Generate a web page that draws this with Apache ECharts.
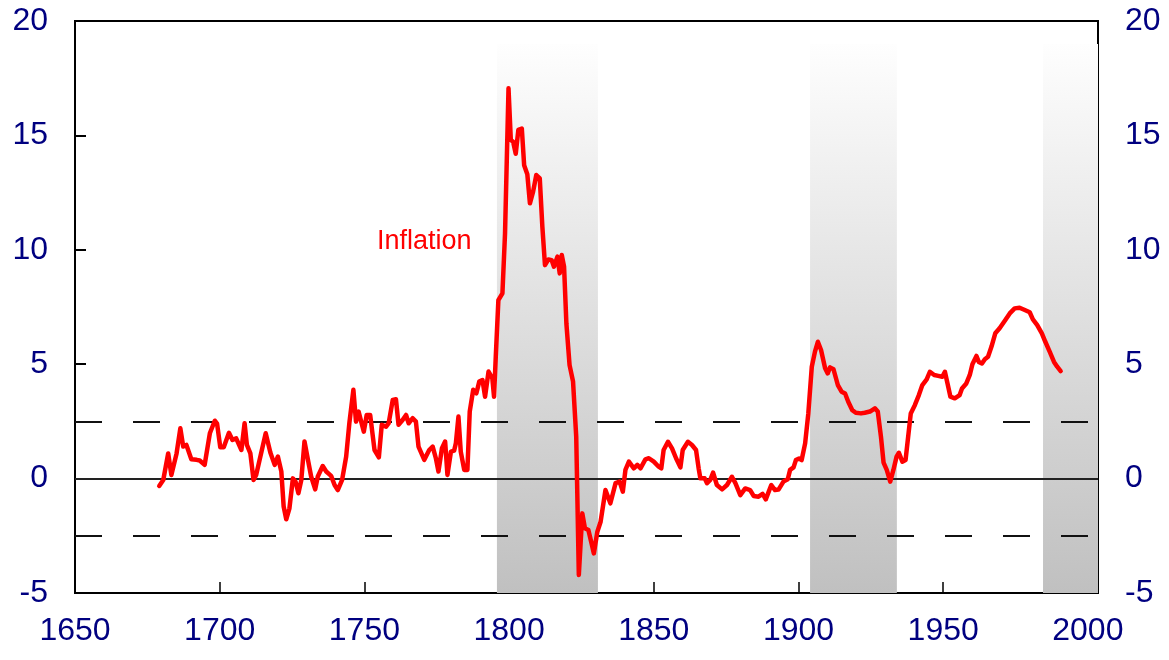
<!DOCTYPE html>
<html>
<head>
<meta charset="utf-8">
<title>Inflation</title>
<script src="https://cdn.jsdelivr.net/npm/echarts@6/dist/echarts.min.js"></script>
<style>
  html, body { margin: 0; padding: 0; background: #fff; }
  #chart { width: 1169px; height: 660px; }
</style>
</head>
<body>
<div id="chart"></div>
<script>
// 年份 (roughly yearly)
const years = [
  1679.1, 1680.5, 1682.2, 1683.3, 1685.1, 1686.4, 1687.4, 1688.5, 1690.2, 1692.0,
  1693.1, 1694.8, 1696.6, 1698.3, 1699.1, 1700.2, 1701.4, 1703.2, 1704.4, 1705.7,
  1707.5, 1708.6, 1709.4, 1710.6, 1711.7, 1712.6, 1713.8, 1715.9, 1717.5, 1719.0,
  1720.1, 1721.3, 1722.1, 1723.0, 1724.1, 1725.3, 1726.2, 1727.2, 1728.2, 1729.3,
  1730.5, 1731.6, 1733.0, 1733.9, 1735.6, 1736.8, 1738.5, 1739.7, 1740.8, 1742.3,
  1743.7, 1744.8, 1746.2, 1747.1, 1748.0, 1749.8, 1750.8, 1752.0, 1753.5, 1755.0,
  1756.0, 1757.5, 1758.4, 1759.8, 1760.9, 1761.8, 1763.2, 1764.4, 1765.3, 1766.7,
  1767.8, 1768.7, 1770.7, 1772.4, 1773.6, 1774.7, 1775.6, 1776.8, 1777.9, 1778.7,
  1779.9, 1781.0, 1781.6, 1782.5, 1783.3, 1784.5, 1785.6, 1786.4, 1787.6, 1788.7,
  1789.7, 1790.8, 1791.7, 1792.9, 1794.2, 1794.8,
  1795.4, 1796.3, 1797.7, 1798.6, 1799.8, 1800.6, 1801.4, 1802.3, 1803.2, 1804.4,
  1805.2, 1806.3, 1807.2, 1808.3, 1809.4, 1810.6, 1811.5, 1812.4, 1813.6, 1814.7,
  1815.5, 1816.7, 1817.5, 1818.2, 1819.0, 1819.8, 1820.9, 1822.1, 1823.2, 1824.1,
  1825.3, 1826.2, 1827.4, 1828.5, 1829.3, 1830.5,
  1831.6, 1833.3, 1835.0, 1836.8, 1838.2, 1839.3, 1840.2, 1841.4, 1843.1, 1844.3,
  1845.4, 1847.1, 1848.3, 1850.0, 1851.7, 1852.6, 1853.4, 1854.9, 1856.3, 1857.7,
  1859.2, 1860.0, 1861.8, 1863.2, 1864.6, 1865.5, 1866.1, 1867.6, 1868.4, 1869.5,
  1870.5, 1871.8, 1873.6, 1875.3, 1877.0, 1878.2, 1879.9, 1881.6, 1883.3, 1884.5,
  1886.2, 1887.6, 1888.7, 1890.6, 1891.9, 1893.1,
  1894.8, 1896.3, 1897.1, 1898.3, 1899.1, 1900.2, 1901.1, 1902.3, 1903.4, 1904.6,
  1905.7, 1906.7, 1907.8, 1909.2, 1910.1, 1910.9, 1912.1, 1913.6, 1914.9, 1916.1,
  1917.2, 1918.6, 1919.8, 1921.6, 1922.9, 1924.7, 1926.4, 1927.4, 1928.5, 1929.4,
  1930.5, 1931.7, 1932.8, 1933.9, 1934.7, 1935.9, 1937.0, 1937.9, 1938.8, 1940.2,
  1941.6, 1942.8, 1944.3, 1945.4, 1946.9, 1948.3, 1949.7, 1950.6, 1951.5, 1952.5,
  1954.0, 1955.7, 1956.5, 1958.0, 1959.2, 1960.1, 1961.5, 1962.3, 1963.4, 1964.4,
  1965.5, 1966.7, 1968.0, 1969.5, 1971.3, 1973.0, 1974.7, 1976.4, 1978.2, 1979.9,
  1981.0, 1982.5, 1984.1, 1985.3, 1986.8, 1988.3, 1989.4, 1990.6
]

// 通胀率 %
const inflation = [
  -0.32, -0.06, 1.10, 0.16, 1.10, 2.20, 1.40, 1.47, 0.85, 0.82,
  0.79, 0.60, 1.98, 2.53, 2.40, 1.37, 1.37, 2.00, 1.69, 1.76,
  1.25, 2.42, 1.47, 1.10, -0.06, 0.16, 0.82, 1.98, 1.14, 0.60,
  0.96, 0.31, -1.22, -1.78, -1.30, 0.01, -0.13, -0.64, -0.06, 1.62,
  0.82, 0.09, -0.47, 0.09, 0.55, 0.31, 0.12, -0.28, -0.50, -0.06,
  0.96, 2.42, 3.88, 2.49, 2.93, 2.05, 2.78, 2.78, 1.25, 0.93,
  2.35, 2.27, 2.42, 3.44, 3.47, 2.35, 2.56, 2.78, 2.42, 2.64,
  2.49, 1.40, 0.82, 1.25, 1.40, 0.89, 0.31, 1.33, 1.62, 0.16,
  1.18, 1.22, 1.54, 2.71, 1.18, 0.38, 0.38, 2.93, 3.88, 3.73,
  4.24, 4.31, 3.58, 4.68, 4.39, 3.58,
  5.33, 7.80, 8.10, 10.72, 17.06, 14.80, 14.72, 14.20, 15.24, 15.30,
  13.70, 13.30, 12.03, 12.54, 13.27, 13.12, 11.00, 9.33, 9.58, 9.55,
  9.26, 9.70, 8.97, 9.77, 9.26, 6.78, 4.96, 4.24, 1.83, -4.21,
  -1.52, -2.17, -2.25, -2.83, -3.27, -2.32,
  -1.90, -0.50, -1.08, -0.20, -0.13, -0.57, 0.38, 0.74, 0.45, 0.60,
  0.45, 0.84, 0.89, 0.74, 0.52, 0.45, 1.25, 1.61, 1.32, 0.89,
  0.49, 1.25, 1.61, 1.47, 1.25, 0.45, 0.01, 0.01, -0.20, -0.06,
  0.26, -0.28, -0.47, -0.28, 0.08, -0.20, -0.72, -0.43, -0.50, -0.76,
  -0.79, -0.67, -0.91, -0.28, -0.50, -0.48,
  -0.13, -0.03, 0.38, 0.49, 0.81, 0.88, 0.81, 1.54, 2.85, 4.89,
  5.55, 5.98, 5.62, 4.82, 4.60, 4.86, 4.78, 4.09, 3.80, 3.72,
  3.36, 2.99, 2.88, 2.85, 2.88, 2.93, 3.07, 2.93, 1.83, 0.70,
  0.38, -0.13, 0.38, 0.96, 1.13, 0.74, 0.81, 1.83, 2.85, 3.21,
  3.65, 4.09, 4.34, 4.67, 4.53, 4.49, 4.45, 4.67, 4.16, 3.58,
  3.51, 3.65, 3.94, 4.16, 4.53, 5.00, 5.36, 5.10, 5.03, 5.22,
  5.33, 5.77, 6.35, 6.57, 6.90, 7.22, 7.44, 7.47, 7.37, 7.27,
  6.96, 6.71, 6.35, 5.98, 5.55, 5.10, 4.89, 4.70
]

// 阴影区间 [start, end]
const bandStarts = [1795.8, 1904.0, 1984.5]
const bandEnds = [1830.7, 1934.0, 2003.5]
const bandTop = 19
const xTicks = [1650, 1700, 1750, 1800, 1850, 1900, 1950, 2000]
const yTicks = [-5, 0, 5, 10, 15, 20]
const refLines = [2.5, -2.5]

const navy = '#000080'
const fontFamily = '"Liberation Sans", Arial, sans-serif'

const chart = echarts.init(document.getElementById('chart'))

const bandData = bandStarts.map((s, i) => [
  { xAxis: s, yAxis: bandTop },
  { xAxis: bandEnds[i], yAxis: yTicks[0] }
])

const yAxisBase = {
  type: 'value',
  min: yTicks[0],
  max: yTicks[yTicks.length - 1],
  interval: 5,
  splitLine: { show: false },
  axisLine: { show: true, lineStyle: { color: '#000', width: 2 } },
  axisTick: { show: true, inside: true, length: 11, lineStyle: { color: '#000', width: 2 } },
  axisLabel: { color: navy, fontSize: 32, fontFamily: fontFamily, margin: 27 }
}

const option = {
  animation: false,
  backgroundColor: '#fff',
  grid: {
    left: 75, right: 71, top: 21, bottom: 67,
    show: true, borderColor: '#000', borderWidth: 2,
    outerBoundsMode: 'none'
  },
  xAxis: {
    type: 'value',
    min: xTicks[0],
    max: 2003.5,
    interval: 50,
    splitLine: { show: false },
    axisLine: { show: true, onZero: false, lineStyle: { color: '#000', width: 2 } },
    axisTick: { show: true, inside: true, length: 11, lineStyle: { color: '#000', width: 1.5 } },
    axisLabel: {
      color: navy, fontSize: 32, fontFamily: fontFamily, margin: 22,
      showMaxLabel: false,
      formatter: v => (xTicks.indexOf(v) >= 0 ? String(v) : '')
    }
  },
  yAxis: [
    Object.assign({}, yAxisBase, { position: 'left' }),
    Object.assign({}, yAxisBase, { position: 'right' })
  ],
  graphic: [{
    type: 'text',
    x: 377,
    y: 242,
    style: {
      text: 'Inflation',
      fill: '#ff0000',
      font: '27px ' + fontFamily,
      verticalAlign: 'middle'
    }
  }],
  series: [
    {
      // 背景阴影 + 参考线
      type: 'line',
      data: [],
      silent: true,
      markArea: {
        silent: true,
        itemStyle: {
          color: {
            type: 'linear', x: 0, y: 0, x2: 0, y2: 1,
            colorStops: [
              { offset: 0, color: '#fefefe' },
              { offset: 1, color: '#c0c0c0' }
            ]
          }
        },
        data: bandData
      },
      markLine: {
        silent: true,
        symbol: 'none',
        label: { show: false },
        data: [
          { yAxis: 0, lineStyle: { color: '#222', width: 2, type: 'solid' } },
          ...refLines.map(v => ({ yAxis: v, lineStyle: { color: '#111', width: 2, type: [27, 31] } }))
        ]
      }
    },
    {
      name: 'Inflation',
      type: 'line',
      data: years.map((y, i) => [y, inflation[i]]),
      showSymbol: false,
      smooth: false,
      lineStyle: { color: '#ff0000', width: 4.5, join: 'round', cap: 'round' },
      z: 5
    }
  ]
}

chart.setOption(option)
</script>
</body>
</html>
